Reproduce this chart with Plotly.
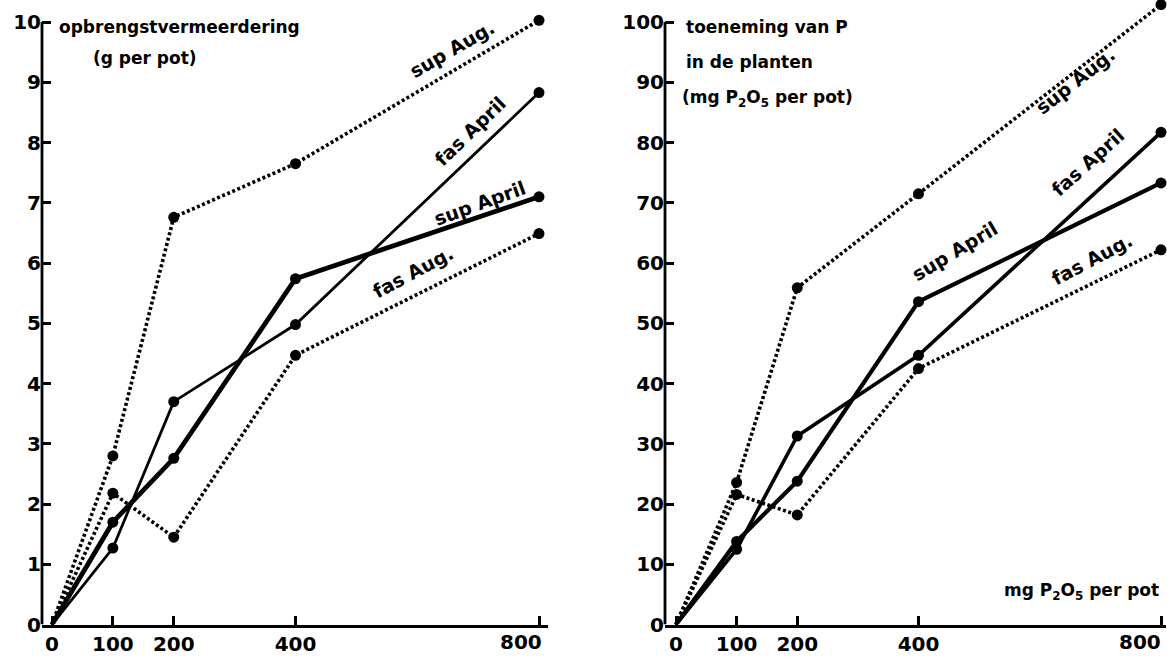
import plotly.graph_objects as go

W, H = 1167, 668

# ---- data ----
x_vals = [0, 100, 200, 400, 800]
x_ticks = [0, 100, 200, 400, 800]
x_ticklabels = ["0", "100", "200", "400", ""]  # "800" drawn as annotation (left of its tick)

sup_aug_L = [0, 2.8, 6.76, 7.65, 10.03]
fas_april_L = [0, 1.27, 3.7, 4.98, 8.83]
sup_april_L = [0, 1.7, 2.76, 5.74, 7.1]
fas_aug_L = [0, 2.18, 1.45, 4.47, 6.49]

sup_aug_R = [0, 23.6, 55.9, 71.5, 102.9]
fas_april_R = [0, 12.5, 31.3, 44.7, 81.7]
sup_april_R = [0, 13.8, 23.8, 53.6, 73.3]
fas_aug_R = [0, 21.6, 18.2, 42.5, 62.2]

y_ticks_L = list(range(0, 11))
y_ticks_R = list(range(0, 101, 10))

FONT = "DejaVu Sans"

def px2paper(px, py):
    return px / W, 1 - py / H

fig = go.Figure()

marker_sizes = [0, 11, 11, 11, 11]

def add_series(xa, ya, yv, width, dash):
    fig.add_trace(go.Scatter(
        x=x_vals, y=yv, xaxis=xa, yaxis=ya, mode="lines+markers",
        line=dict(color="black", width=width, dash=dash),
        marker=dict(color="black", size=marker_sizes, opacity=1,
                    line=dict(width=0, color="black")),
        cliponaxis=False, showlegend=False, hoverinfo="x+y"))

DOT = "3px,2.5px"
add_series("x", "y", sup_aug_L, 3.6, DOT)
add_series("x", "y", fas_april_L, 2.8, "solid")
add_series("x", "y", sup_april_L, 4.8, "solid")
add_series("x", "y", fas_aug_L, 3.6, DOT)

add_series("x2", "y2", sup_aug_R, 3.6, DOT)
add_series("x2", "y2", fas_april_R, 3.6, "solid")
add_series("x2", "y2", sup_april_R, 4.2, "solid")
add_series("x2", "y2", fas_aug_R, 3.6, DOT)

# axis geometry (pixels)
yb = 636  # y=0 pixel
dom_y = [(H - yb) / H, 1]
L_x0, L_x800, L_left, L_right = 52, 539, 42, 548
R_x0, R_x800, R_left, R_right = 676, 1161, 665, 1166
sL = (L_x800 - L_x0) / 800
sR = (R_x800 - R_x0) / 800
rangeL = [-(L_x0 - L_left) / sL, 800 + (L_right - L_x800) / sL]
rangeR = [-(R_x0 - R_left) / sR, 800 + (R_right - R_x800) / sR]
pyL = (yb - 22.5) / 10
pyR = (yb - 22.5) / 100
yrangeL = [0, yb / pyL]
yrangeR = [0, yb / pyR]

tickfont = dict(family=FONT, size=20, color="black", weight="bold")
xcommon = dict(tickvals=x_ticks, ticktext=x_ticklabels, ticks="inside",
               ticklen=9, tickwidth=2.5, tickcolor="black", showline=True,
               linewidth=2.8, linecolor="black", showgrid=False, zeroline=False,
               tickfont=tickfont, fixedrange=True)
ycommon = dict(ticks="inside", ticklen=9, tickwidth=2.5, tickcolor="black",
               showline=False, showgrid=False, zeroline=False, tickfont=tickfont,
               fixedrange=True, domain=dom_y)

fig.update_layout(
    width=W, height=H, margin=dict(l=0, r=0, t=0, b=0),
    paper_bgcolor="white", plot_bgcolor="white",
    xaxis=dict(domain=[L_left / W, L_right / W], range=rangeL, anchor="y", **xcommon),
    yaxis=dict(range=yrangeL, anchor="x", tickvals=y_ticks_L, **ycommon),
    xaxis2=dict(domain=[R_left / W, R_right / W], range=rangeR, anchor="y2", **xcommon),
    yaxis2=dict(range=yrangeR, anchor="x2", tickvals=y_ticks_R, **ycommon),
)

# y-axis lines (stop at top tick)
fig.add_shape(type="line", xref="x domain", yref="y", x0=0, x1=0, y0=0, y1=10,
              line=dict(color="black", width=2.8))
fig.add_shape(type="line", xref="x2 domain", yref="y2", x0=0, x1=0, y0=0, y1=100,
              line=dict(color="black", width=2.8))

def ann(text, px, py, angle=0, size=17, xanchor="center"):
    xp, yp = px2paper(px, py)
    fig.add_annotation(text=text, x=xp, y=yp, xref="paper", yref="paper",
                       showarrow=False, textangle=angle, xanchor=xanchor, yanchor="middle",
                       font=dict(family=FONT, size=size, color="black", weight="bold"))

# "800" tick labels
ann("800", 521, 654, size=20)
ann("800", 1140, 654, size=20)

# axis titles
ann("opbrengstvermeerdering", 57, 27, size=17, xanchor="left")
ann("(g per pot)", 91, 59, size=17, xanchor="left")
ann("toeneming van P", 684, 28, size=17, xanchor="left")
ann("in de planten", 684, 63, size=17, xanchor="left")
ann("(mg P<sub>2</sub>O<sub>5</sub> per pot)", 680, 100, size=17, xanchor="left")
ann("mg P<sub>2</sub>O<sub>5</sub> per pot", 1161, 602, size=17, xanchor="right")

# series labels (left)
ann("sup Aug.", 452, 50, angle=-30, size=19)
ann("fas April", 470, 133, angle=-44, size=19)
ann("sup April", 480, 207, angle=-20, size=19)
ann("fas Aug.", 413, 277, angle=-28, size=19)

# series labels (right)
ann("sup Aug.", 1075, 82, angle=-38, size=19)
ann("fas April", 1088, 165, angle=-42, size=19)
ann("sup April", 955, 256, angle=-31, size=19)
ann("fas Aug.", 1092, 264, angle=-28, size=19)

fig.write_html("out.html")
